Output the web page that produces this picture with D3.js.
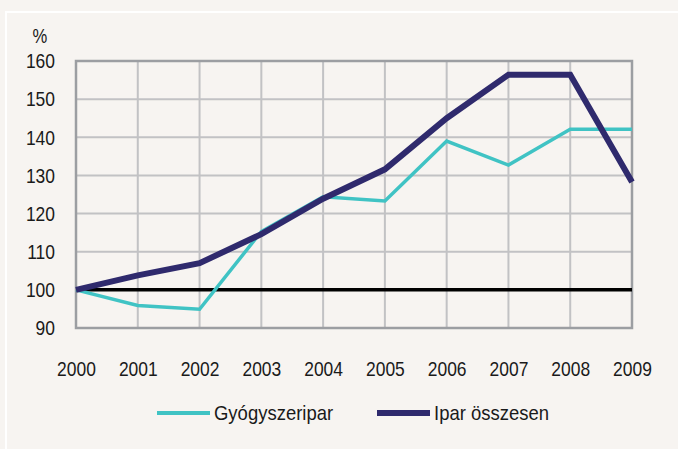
<!DOCTYPE html>
<html lang="hu">
<head>
<meta charset="UTF-8">
<title>Gyógyszeripar</title>
<script src="https://cdnjs.cloudflare.com/ajax/libs/d3/7.8.5/d3.min.js"></script>
<style>
  html, body { margin: 0; padding: 0; background: #f7f4f1; }
  svg { display: block; }
  text { font-family: "Liberation Sans", Arial, sans-serif; fill: #1a1a1a; }
</style>
</head>
<body>
<svg id="chart"></svg>
<script>
// data
var years = [2000, 2001, 2002, 2003, 2004, 2005, 2006, 2007, 2008, 2009];
var gyogyszeripar = [100, 95.9, 94.9, 115.3, 124.4, 123.3, 139, 132.7, 142.1, 142.1];
var iparOsszesen = [100, 103.8, 107, 114.6, 123.9, 131.6, 145, 156.4, 156.4, 128.3];
var yTicks = [90, 100, 110, 120, 130, 140, 150, 160];

var W = 678, H = 449;
var margin = {top: 61, right: 46, bottom: 121, left: 76};
var width = W - margin.left - margin.right,
    height = H - margin.top - margin.bottom;

var svg = d3.select("#chart").attr("width", W).attr("height", H);

// squeeze text to look like the narrow face of the original
function narrow(sel, k) {
  sel.each(function() {
    var len = this.getComputedTextLength();
    d3.select(this).attr("textLength", len * k).attr("lengthAdjust", "spacingAndGlyphs");
  });
}

// white frame round the chart
svg.append("rect")
  .attr("x", 6).attr("y", 12)
  .attr("width", W).attr("height", H)
  .attr("fill", "none").attr("stroke", "#ffffff").attr("stroke-width", 2);

var g = svg.append("g")
  .attr("transform", "translate(" + margin.left + "," + margin.top + ")");

var x = d3.scaleLinear().domain([2000, 2009]).range([0, width]);
var y = d3.scaleLinear().domain([90, 160]).range([height, 0]);

// grid
g.append("g").selectAll("line").data(years.slice(1, -1)).enter().append("line")
  .attr("x1", function(d) { return x(d); }).attr("x2", function(d) { return x(d); })
  .attr("y1", 0).attr("y2", height)
  .attr("stroke", "#c2c2c4").attr("stroke-width", 2);
g.append("g").selectAll("line").data(yTicks.slice(1, -1)).enter().append("line")
  .attr("x1", 0).attr("x2", width)
  .attr("y1", function(d) { return y(d); }).attr("y2", function(d) { return y(d); })
  .attr("stroke", "#c2c2c4").attr("stroke-width", 2);
g.append("rect")
  .attr("width", width).attr("height", height)
  .attr("fill", "none").attr("stroke", "#9c9ea2").attr("stroke-width", 2.5);

// tick labels
var yAxis = d3.axisLeft(y).tickValues(yTicks).tickSize(0).tickPadding(21);
g.append("g").call(yAxis)
  .call(function(s) { s.select(".domain").remove(); })
  .selectAll("text").attr("font-size", 21).style("font-family", null)
  .call(narrow, 0.83);

var xAxis = d3.axisBottom(x).tickValues(years).tickFormat(d3.format("d")).tickSize(0).tickPadding(33);
g.append("g").attr("transform", "translate(0," + height + ")").call(xAxis)
  .call(function(s) { s.select(".domain").remove(); })
  .selectAll("text").attr("font-size", 21).style("font-family", null)
  .call(narrow, 0.83);

svg.append("text").attr("x", 40).attr("y", 43)
  .attr("text-anchor", "middle").attr("font-size", 20).text("%")
  .call(narrow, 0.83);

// 100 reference line
g.append("line")
  .attr("x1", 0).attr("x2", width)
  .attr("y1", y(100)).attr("y2", y(100))
  .attr("stroke", "#000").attr("stroke-width", 3.5);

var line = d3.line()
  .x(function(d, i) { return x(years[i]); })
  .y(function(d) { return y(d); });

g.append("path").datum(gyogyszeripar)
  .attr("d", line).attr("fill", "none")
  .attr("stroke", "#40c3c4").attr("stroke-width", 3.5);

g.append("path").datum(iparOsszesen)
  .attr("d", line).attr("fill", "none")
  .attr("stroke", "#2f2a6d").attr("stroke-width", 6).attr("stroke-linejoin", "miter");

// legend
var legend = svg.append("g");
var items = [
  {name: "Gyógyszeripar", color: "#40c3c4", w: 4, x: 157},
  {name: "Ipar összesen", color: "#2f2a6d", w: 6, x: 377}
];
items.forEach(function(it) {
  legend.append("line")
    .attr("x1", it.x).attr("x2", it.x + 53)
    .attr("y1", 413).attr("y2", 413)
    .attr("stroke", it.color).attr("stroke-width", it.w);
  legend.append("text")
    .attr("x", it.x + 57).attr("y", 420)
    .attr("font-size", 21).text(it.name)
    .call(narrow, 0.88);
});
</script>
</body>
</html>
